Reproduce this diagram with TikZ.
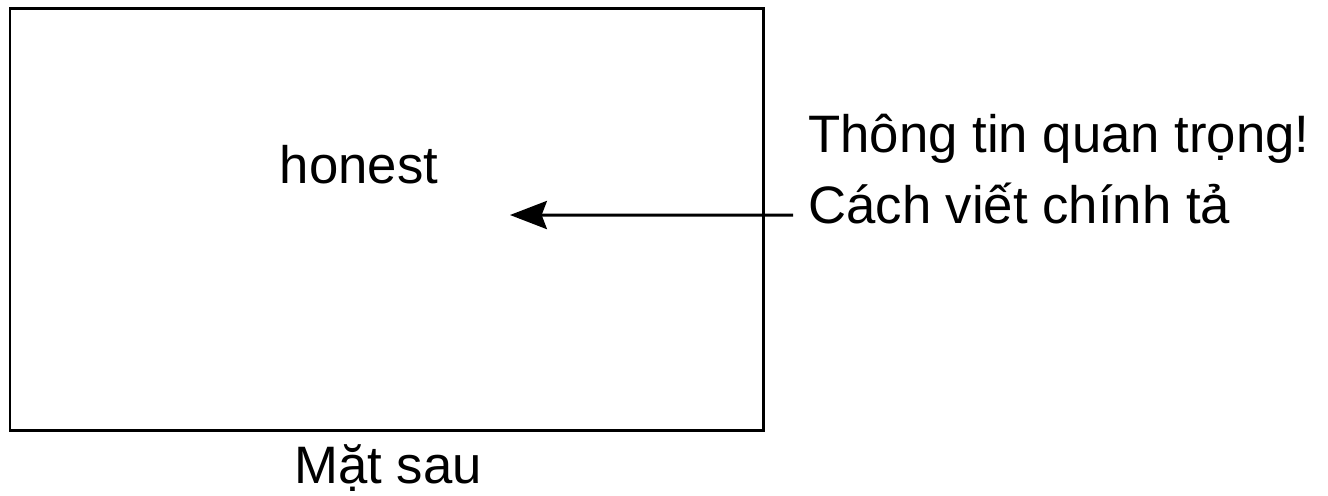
\documentclass[tikz,border=0pt]{standalone}
\usepackage{fontspec}
\setmainfont{Liberation Sans}
\usetikzlibrary{arrows.meta}

\begin{document}
\begin{tikzpicture}[
  x=0.02cm, y=-0.02cm,
  card/.style={
    draw=black,
    line width=1.7pt
  },
  label/.style={
    inner xsep=0pt,
    inner ysep=0pt,
    anchor=base,
    font=\fontsize{30}{36}\selectfont
  },
  note/.style={label,anchor=base west},
  flow/.style={-{Stealth[length=21pt,width=16pt,inset=3pt]},line width=1.7pt,draw=black}
]
\useasboundingbox (0,0) rectangle (1328,495);
\draw[card] (10,8) rectangle (763,430);
\node[label] (word) at (359,183) {honest};
\node[label] (back) at (388,483) {Mặt sau};
\node[note] (info) at (808,152) {Thông tin quan trọng!};
\node[note,inner xsep=8.5pt] (spell) at (793,223) {Cách viết chính tả};
\coordinate (target) at (510,215);
\draw[flow] ([yshift=4.5pt]spell.base west) -- (target);
\end{tikzpicture}
\end{document}
